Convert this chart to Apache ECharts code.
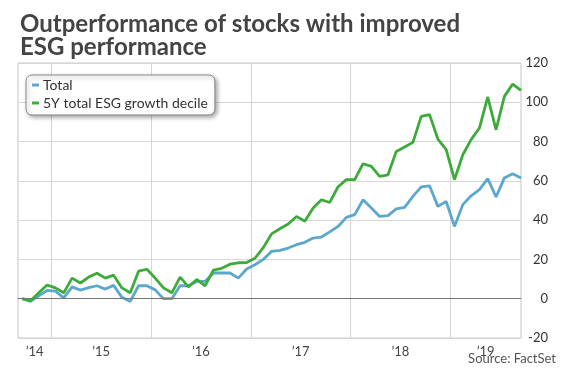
<!DOCTYPE html>
<html>
<head>
<meta charset="utf-8">
<script src="https://cdn.jsdelivr.net/npm/echarts@6/dist/echarts.min.js"></script>
<style>html,body{margin:0;padding:0;background:#fff;}#c{width:569px;height:379px;}</style>
</head>
<body>
<div id="c"></div>
<script>
// Monthly observations, Sep 2014 .. Sep 2019
const startYear = 2014, startMonth = 9;
const months = [];
for (let k = 0; k < 61; k++) {
  const m = startMonth - 1 + k;
  months.push((startYear + Math.floor(m / 12)) + '-' + String(m % 12 + 1).padStart(2, '0'));
}
const seriesNames = ['Total', '5Y total ESG growth decile'];
const totalValues = [
  0, -1.4, 1.5, 4.2, 3.9, 0.4, 6, 4.4, 5.6, 6.6,
  4.9, 6.8, 0.7, -1.4, 6.6, 6.6, 4.5, 0, 0, 6.6,
  6.6, 8.8, 8.8, 13.1, 13.1, 13.1, 10.5, 15.1, 17.3, 20,
  24.1, 24.6, 25.8, 27.5, 28.7, 30.9, 31.4, 34, 36.8, 41.4,
  42.8, 50.4, 46.2, 41.9, 42.3, 45.7, 46.5, 52.1, 56.9, 57.5,
  47, 49.5, 36.8, 47.9, 52.4, 55.5, 61.1, 51.8, 61.5, 63.6,
  61.5
];
const esgValues = [
  0, -1, 3, 7, 5.5, 3, 10.5, 8, 11, 13,
  10.5, 12, 5.5, 3, 14, 15, 10.5, 5.5, 3, 11,
  6, 9.8, 6.5, 14.5, 15.5, 17.6, 18.3, 18.4, 20.6, 26,
  33, 35.6, 38, 41.9, 39.4, 46.2, 50.4, 49, 57, 60.6,
  60.6, 68.7, 67.4, 62.3, 63.1, 75, 77.2, 79.6, 92.8, 93.7,
  81.3, 75.9, 60.6, 73.3, 81, 86.9, 102.7, 86, 103, 109.3,
  106.1
];
const yTicks = { min: -20, max: 120, step: 20 };
const yearLabels = ["’14", "’15", "’16", "’17", "’18", "’19"];

// derive year boundaries and label centres from the month list
const lo = -0.5, hi = months.length - 1;
const boundaries = [];
months.forEach((m, i) => { if (i > 0 && m.endsWith('-01')) boundaries.push(i - 0.5); });
const edges = [lo].concat(boundaries, [hi]);
const labelCenters = [];
for (let k = 0; k < edges.length - 1; k++) labelCenters.push((edges[k] + edges[k + 1]) / 2);

const chart = echarts.init(document.getElementById('c'), null, { renderer: 'canvas' });
const toPairs = arr => arr.map((v, i) => [i, v]);
chart.setOption({
  animation: false,
  backgroundColor: '#fff',
  title: {
    text: 'Outperformance of stocks with improved\nESG performance',
    left: 15, top: 8,
    textStyle: { fontFamily: 'Lato', fontWeight: 'bold', fontSize: 24, lineHeight: 23, color: '#444' }
  },
  legend: {
    orient: 'vertical', left: 26, top: 75,
    data: seriesNames,
    icon: 'rect', itemWidth: 7, itemHeight: 3, itemGap: 4,
    padding: [3, 7, 5, 6],
    backgroundColor: '#fff', borderColor: '#888', borderWidth: 1, borderRadius: 6,
    shadowBlur: 4, shadowOffsetX: 2, shadowOffsetY: 2, shadowColor: 'rgba(0,0,0,0.35)',
    textStyle: { fontFamily: 'Lato', fontSize: 14, lineHeight: 14, color: '#333', padding: [0, 0, 0, -1] }
  },
  grid: { left: 18, right: 48, top: 63, bottom: 41, show: true, borderColor: '#c4c4c4', borderWidth: 1 },
  xAxis: {
    type: 'value', min: lo, max: hi,
    axisLine: { show: true, lineStyle: { color: '#aaa' } },
    axisTick: { show: false, customValues: boundaries },
    splitLine: { show: true, lineStyle: { color: '#d6d6d6', width: 1 } },
    axisLabel: {
      customValues: labelCenters, margin: 7,
      fontFamily: 'Lato', fontSize: 13, color: '#444',
      formatter: v => {
        const k = labelCenters.findIndex(c => Math.abs(c - v) < 1e-6);
        return k >= 0 ? yearLabels[k] : '';
      }
    }
  },
  yAxis: {
    type: 'value', position: 'right', min: yTicks.min, max: yTicks.max, interval: yTicks.step,
    axisLine: { show: false }, axisTick: { show: false },
    splitLine: { lineStyle: { color: '#d6d6d6', width: 1 } },
    axisLabel: { align: 'right', margin: 27, fontFamily: 'Lato', fontSize: 13, color: '#333' }
  },
  graphic: [{
    type: 'text', right: 13, top: 352,
    style: { text: 'Source: FactSet', font: '13px Lato', fill: '#555' }
  }],
  series: [
    {
      name: seriesNames[0], type: 'line', data: toPairs(totalValues), showSymbol: false,
      lineStyle: { color: '#5ba8cc', width: 2.8 }, itemStyle: { color: '#5ba8cc' },
      markLine: {
        silent: true, symbol: 'none', label: { show: false },
        lineStyle: { color: '#777', type: 'solid', width: 1 },
        data: [{ yAxis: 0 }]
      }
    },
    {
      name: seriesNames[1], type: 'line', data: toPairs(esgValues), showSymbol: false,
      lineStyle: { color: '#3dab3a', width: 2.8 }, itemStyle: { color: '#3dab3a' }
    }
  ]
});
</script>
</body>
</html>
